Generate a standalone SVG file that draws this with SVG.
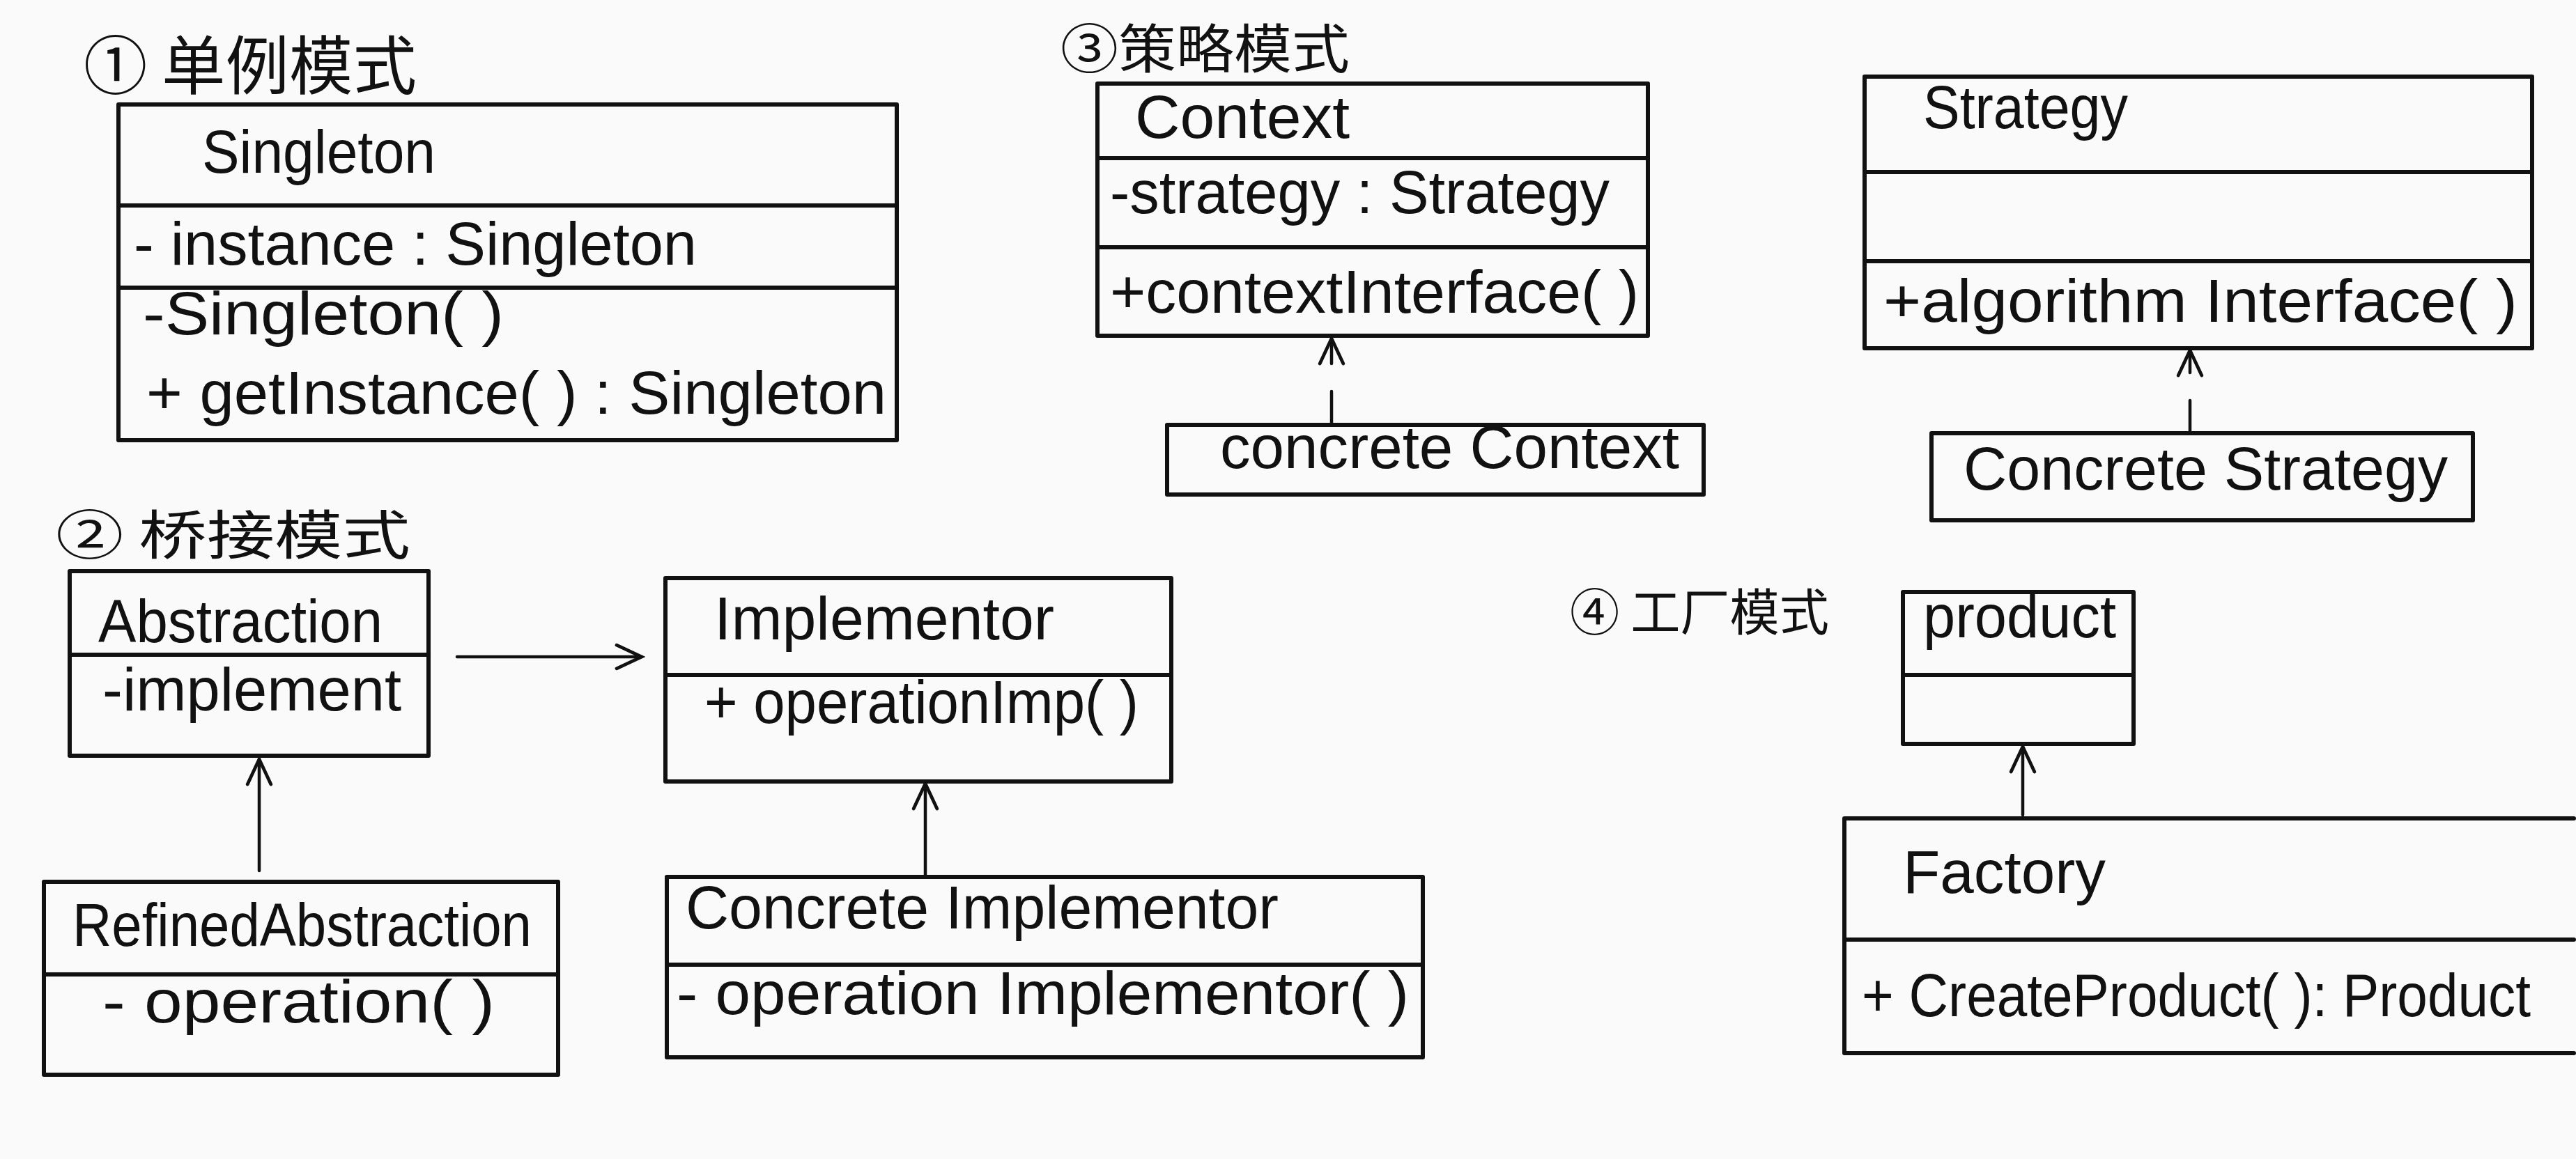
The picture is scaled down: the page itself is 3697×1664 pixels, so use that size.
<svg xmlns="http://www.w3.org/2000/svg" width="3697" height="1664" viewBox="0 0 3697 1664">
<defs>
<style>
.box{fill:none;stroke:#111;stroke-width:6;stroke-linecap:round;stroke-linejoin:round}
.ln{fill:none;stroke:#111;stroke-width:6;stroke-linecap:round}
.t{font-family:"Liberation Sans","DejaVu Sans",sans-serif;fill:#111;font-size:88px}
.h{font-family:"Noto Sans CJK SC","Noto Sans",sans-serif;fill:#111}
.con{fill:none;stroke:#111;stroke-width:4.5;stroke-linecap:round}
.dash{stroke-dasharray:45 40}
</style>
<marker id="open" viewBox="0 0 20 20" refX="18" refY="10" markerWidth="48" markerHeight="48" markerUnits="userSpaceOnUse" orient="auto">
<path d="M3,3 L18,10 L3,17" fill="none" stroke="#111" stroke-width="2" stroke-linecap="round"/>
</marker>
</defs>
<rect width="3697" height="1664" fill="#fafafa"/>

<g id="titles">
<text class="h" x="120" y="128" font-size="92" textLength="478" lengthAdjust="spacingAndGlyphs">① 单例模式</text>
<text class="h" x="1522" y="98" font-size="76" textLength="415" lengthAdjust="spacingAndGlyphs">③策略模式</text>
<text class="h" x="80" y="796" font-size="76" textLength="509" lengthAdjust="spacingAndGlyphs">② 桥接模式</text>
<text class="h" x="2253" y="905" font-size="72" textLength="372" lengthAdjust="spacingAndGlyphs">④ 工厂模式</text>
</g>

<g id="connectors">
<line class="con" x1="656" y1="943" x2="921" y2="943" marker-end="url(#open)"/>
<line class="con" x1="372" y1="1250" x2="372" y2="1090" marker-end="url(#open)"/>
<line class="con" x1="1328" y1="1259" x2="1328" y2="1125" marker-end="url(#open)"/>
<line class="con dash" x1="1911" y1="607" x2="1911" y2="486" marker-end="url(#open)"/>
<line class="con dash" x1="3143" y1="620" x2="3143" y2="503" marker-end="url(#open)"/>
<line class="con" x1="2903" y1="1170" x2="2903" y2="1072" marker-end="url(#open)"/>
</g>

<g id="singleton">
<rect class="box" x="170" y="150" width="1117" height="482"/>
<line class="ln" x1="170" y1="295" x2="1287" y2="295"/>
<line class="ln" x1="170" y1="413" x2="1287" y2="413"/>
<text class="t" x="290" y="248" font-size="96" textLength="335" lengthAdjust="spacingAndGlyphs">Singleton</text>
<text class="t" x="192" y="380" textLength="808" lengthAdjust="spacingAndGlyphs">- instance :  Singleton</text>
<text class="t" x="205" y="480" textLength="518" lengthAdjust="spacingAndGlyphs">-Singleton( )</text>
<text class="t" x="210" y="594" textLength="1062" lengthAdjust="spacingAndGlyphs">+ getInstance( ) : Singleton</text>
</g>

<g id="context">
<rect class="box" x="1575" y="120" width="790" height="362"/>
<line class="ln" x1="1575" y1="227" x2="2365" y2="227"/>
<line class="ln" x1="1575" y1="355" x2="2365" y2="355"/>
<text class="t" x="1629" y="198" textLength="308" lengthAdjust="spacingAndGlyphs">Context</text>
<text class="t" x="1593" y="306" textLength="717" lengthAdjust="spacingAndGlyphs">-strategy : Strategy</text>
<text class="t" x="1593" y="449" textLength="759" lengthAdjust="spacingAndGlyphs">+contextInterface( )</text>
</g>

<g id="strategy">
<rect class="box" x="2676" y="110" width="958" height="390"/>
<line class="ln" x1="2676" y1="247" x2="3634" y2="247"/>
<line class="ln" x1="2676" y1="375" x2="3634" y2="375"/>
<text class="t" x="2760" y="184" textLength="294" lengthAdjust="spacingAndGlyphs">Strategy</text>
<text class="t" x="2703" y="462" textLength="910" lengthAdjust="spacingAndGlyphs">+algorithm  Interface( )</text>
</g>

<g id="concrete-context">
<rect class="box" x="1675" y="610" width="770" height="100"/>
<text class="t" x="1751" y="672" textLength="659" lengthAdjust="spacingAndGlyphs">concrete  Context</text>
</g>

<g id="concrete-strategy">
<rect class="box" x="2772" y="622" width="777" height="125"/>
<text class="t" x="2818" y="703" textLength="695" lengthAdjust="spacingAndGlyphs">Concrete  Strategy</text>
</g>

<g id="abstraction">
<rect class="box" x="100" y="820" width="515" height="265"/>
<line class="ln" x1="100" y1="940" x2="615" y2="940"/>
<text class="t" x="141" y="922" textLength="408" lengthAdjust="spacingAndGlyphs">Abstraction</text>
<text class="t" x="147" y="1020" textLength="429" lengthAdjust="spacingAndGlyphs">-implement</text>
</g>

<g id="implementor">
<rect class="box" x="955" y="830" width="726" height="292"/>
<line class="ln" x1="955" y1="969" x2="1681" y2="969"/>
<text class="t" x="1025" y="918" textLength="488" lengthAdjust="spacingAndGlyphs">Implementor</text>
<text class="t" x="1011" y="1038" textLength="623" lengthAdjust="spacingAndGlyphs">+ operationImp( )</text>
</g>

<g id="refined-abstraction">
<rect class="box" x="63" y="1266" width="738" height="277"/>
<line class="ln" x1="63" y1="1399" x2="801" y2="1399"/>
<text class="t" x="104" y="1358" textLength="659" lengthAdjust="spacingAndGlyphs">RefinedAbstraction</text>
<text class="t" x="147" y="1468" textLength="563" lengthAdjust="spacingAndGlyphs">- operation( )</text>
</g>

<g id="concrete-implementor">
<rect class="box" x="957" y="1259" width="1085" height="259"/>
<line class="ln" x1="957" y1="1385" x2="2042" y2="1385"/>
<text class="t" x="984" y="1333" textLength="851" lengthAdjust="spacingAndGlyphs">Concrete  Implementor</text>
<text class="t" x="971" y="1456" textLength="1051" lengthAdjust="spacingAndGlyphs">- operation Implementor( )</text>
</g>

<g id="product">
<rect class="box" x="2731" y="850" width="331" height="218"/>
<line class="ln" x1="2731" y1="969" x2="3062" y2="969"/>
<text class="t" x="2760" y="915" textLength="277" lengthAdjust="spacingAndGlyphs">product</text>
</g>

<g id="factory">
<path class="box" d="M3694,1175 L2647,1175 L2647,1512 L3694,1512"/>
<line class="ln" x1="2647" y1="1349" x2="3694" y2="1349"/>
<text class="t" x="2731" y="1282" textLength="291" lengthAdjust="spacingAndGlyphs">Factory</text>
<text class="t" x="2672" y="1459" font-size="76" textLength="960" lengthAdjust="spacingAndGlyphs">+ CreateProduct( ): Product</text>
</g>
</svg>
